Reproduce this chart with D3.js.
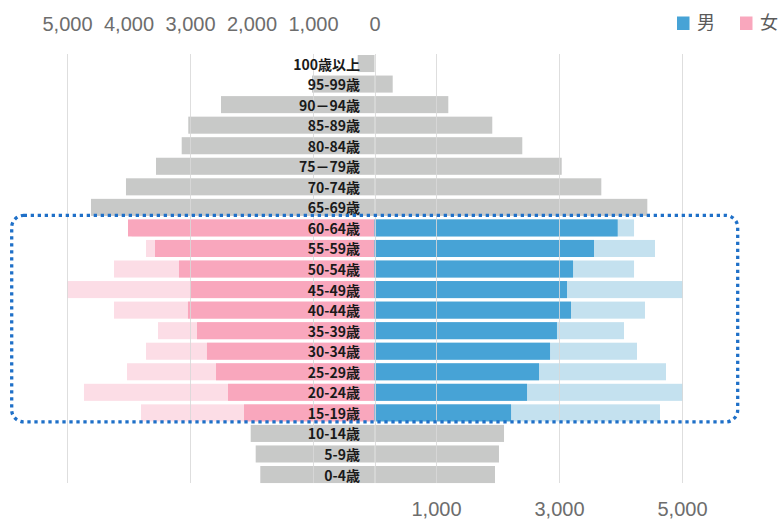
<!DOCTYPE html>
<html>
<head>
<meta charset="utf-8">
<script src="https://cdn.jsdelivr.net/npm/d3@7/dist/d3.min.js"></script>
<style>
  html, body { margin: 0; padding: 0; background: #ffffff; }
  svg { display: block; }
</style>
</head>
<body>
<svg id="chart" width="778" height="521"></svg>
<script>
// ---------- data ----------
const ageGroups = ["100歳以上","95-99歳","90－94歳","85-89歳","80-84歳","75－79歳","70-74歳","65-69歳",
  "60-64歳","55-59歳","50-54歳","45-49歳","40-44歳","35-39歳","30-34歳","25-29歳","20-24歳","15-19歳",
  "10-14歳","5-9歳","0-4歳"];
// current population (female = 女, male = 男)
const femaleValues = [273,1016,2496,3028,3135,3553,4041,4610,
  4008,3569,3179,3000,3033,2886,2724,2577,2382,2122,
  2013,1932,1857];
const maleValues = [0,296,1200,1915,2403,3044,3688,4436,
  3954,3569,3228,3130,3195,2967,2854,2675,2480,2220,
  2106,2024,1959];
// highlighted working-age groups and their comparison (lighter) values
const workingAgeGroups = ["60-64歳","55-59歳","50-54歳","45-49歳","40-44歳","35-39歳","30-34歳","25-29歳","20-24歳","15-19歳"];
const femaleCompare = [3950,3715,4236,5000,4236,3520,3715,4024,4724,3797];
const maleCompare = [4220,4561,4220,5016,4398,4057,4268,4740,5016,4642];
const topTicks = [5000,4000,3000,2000,1000,0];
const bottomTicks = [1000,3000,5000];
const gridTicks = [0,1000,3000,5000];
const legendItems = ["男","女"];

// ---------- layout ----------
const svg = d3.select("#chart");
const center = 374.5;
const xF = d3.scaleLinear().domain([0,5000]).range([center, 67]);
const xM = d3.scaleLinear().domain([0,5000]).range([center, 682]);
const y = d3.scaleBand().domain(ageGroups).range([53.25, 484.8]).paddingInner(0.17).paddingOuter(0.085);
const bw = y.bandwidth();

const colors = {
  gray: "#c8c9c8",
  female: "#f9a7bd", femaleLight: "#fcdde6",
  male: "#47a3d6", maleLight: "#c4e1ef",
  grid: "#d9d9d9", dotted: "#1f70c8", label: "#1a1a1a", tick: "#6d6d6d"
};
const isWorking = d => workingAgeGroups.includes(d);

const rows = ageGroups.map((g,i) => ({group: g, f: femaleValues[i], m: maleValues[i]}));
const compRows = workingAgeGroups.map((g,i) => ({group: g, f: femaleCompare[i], m: maleCompare[i]}));

// comparison (light) bars
svg.append("g").selectAll("rect").data(compRows).join("rect")
  .attr("x", d => xF(d.f)).attr("y", d => y(d.group))
  .attr("width", d => center - xF(d.f)).attr("height", bw)
  .attr("fill", colors.femaleLight);
svg.append("g").selectAll("rect").data(compRows).join("rect")
  .attr("x", center).attr("y", d => y(d.group))
  .attr("width", d => xM(d.m) - center).attr("height", bw)
  .attr("fill", colors.maleLight);

// main bars
svg.append("g").selectAll("rect").data(rows).join("rect")
  .attr("x", d => xF(d.f)).attr("y", d => y(d.group))
  .attr("width", d => center - xF(d.f)).attr("height", bw)
  .attr("fill", d => isWorking(d.group) ? colors.female : colors.gray);
svg.append("g").selectAll("rect").data(rows).join("rect")
  .attr("x", center).attr("y", d => y(d.group))
  .attr("width", d => xM(d.m) - center).attr("height", bw)
  .attr("fill", d => isWorking(d.group) ? colors.male : colors.gray);

// grid lines (drawn over bars)
const gridG = svg.append("g").attr("stroke", colors.grid).attr("stroke-width", 1).attr("opacity", 0.85);
const gridY0 = 54, gridY1 = 483;
gridG.selectAll("line.f").data(gridTicks.filter(d => d > 0)).join("line").attr("class","f")
  .attr("x1", d => Math.round(xF(d)) + 0.5).attr("x2", d => Math.round(xF(d)) + 0.5)
  .attr("y1", gridY0).attr("y2", gridY1);
gridG.selectAll("line.m").data(gridTicks).join("line").attr("class","m")
  .attr("x1", d => Math.round(xM(d)) + 0.5).attr("x2", d => Math.round(xM(d)) + 0.5)
  .attr("y1", gridY0).attr("y2", gridY1);

// category labels
svg.append("g").selectAll("text").data(ageGroups).join("text")
  .attr("x", 360).attr("y", d => y(d) + bw/2)
  .attr("text-anchor", "end").attr("dominant-baseline", "central")
  .attr("font-family", "'Noto Sans CJK JP', 'Noto Sans', sans-serif")
  .attr("font-weight", "bold").attr("font-size", 14)
  .attr("fill", colors.label)
  .text(d => d);

// top axis
const topAxis = svg.append("g").attr("transform", "translate(0,31)")
  .call(d3.axisTop(xF).tickValues(topTicks).tickFormat(d3.format(",")).tickSize(0).tickPadding(0));
topAxis.select(".domain").remove();
topAxis.selectAll("text").attr("font-family", "'Liberation Sans', Arial, sans-serif")
  .attr("font-size", 20).attr("fill", colors.tick);

// bottom axis
const bottomAxis = svg.append("g").attr("transform", "translate(0,502)")
  .call(d3.axisBottom(xM).tickValues(bottomTicks).tickFormat(d3.format(",")).tickSize(0).tickPadding(0));
bottomAxis.select(".domain").remove();
bottomAxis.selectAll("text").attr("font-family", "'Liberation Sans', Arial, sans-serif")
  .attr("font-size", 20).attr("fill", colors.tick);

// highlight frame
const frameTop = y(workingAgeGroups[0]) - 4;
const frameBottom = y(workingAgeGroups[workingAgeGroups.length-1]) + bw + 0.5;
svg.append("rect")
  .attr("x", 11.7).attr("y", frameTop)
  .attr("width", 737.7 - 11.7).attr("height", frameBottom - frameTop)
  .attr("rx", 12).attr("ry", 12)
  .attr("fill", "none").attr("stroke", colors.dotted)
  .attr("stroke-width", 3.3).attr("stroke-dasharray", "3.3 3.7");

// legend
const legendColor = {"男": colors.male, "女": colors.female};
const legendX = [677, 740];
const lg = svg.append("g").selectAll("g").data(legendItems).join("g")
  .attr("transform", (d,i) => `translate(${legendX[i]},16.5)`);
lg.append("rect").attr("width", 12.5).attr("height", 13.5).attr("fill", d => legendColor[d]);
lg.append("text").attr("x", 20).attr("y", 12.5)
  .attr("font-family", "'Noto Sans CJK JP', sans-serif").attr("font-size", 18)
  .attr("fill", "#5a5a5a").text(d => d);
</script>
</body>
</html>
